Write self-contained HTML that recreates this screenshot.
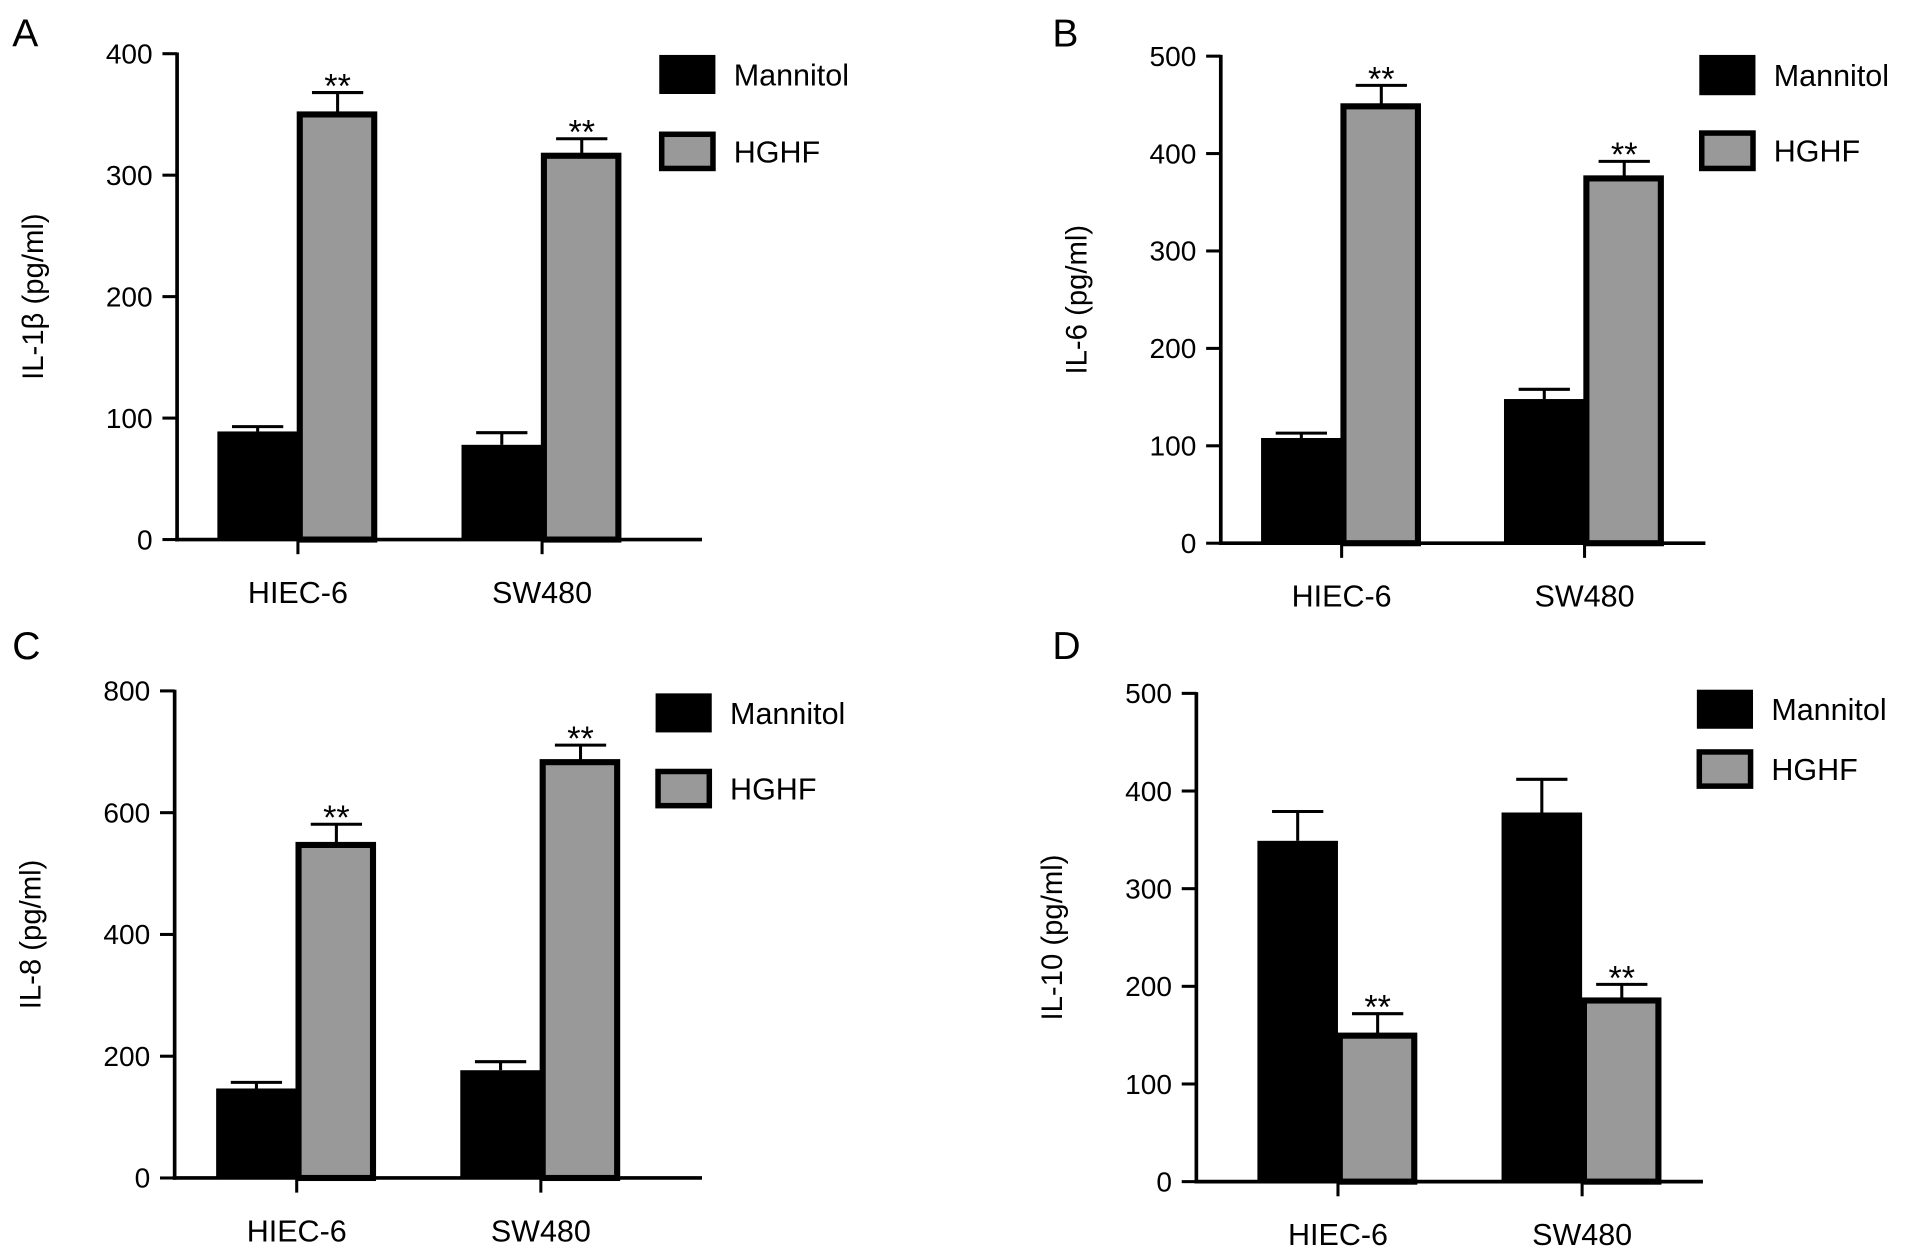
<!DOCTYPE html>
<html><head><meta charset="utf-8"><style>
html,body{margin:0;padding:0;background:#fff;}
svg{display:block;font-family:"Liberation Sans",Arial,sans-serif;}
</style></head><body>
<svg id="fig" width="1913" height="1250" viewBox="0 0 1567 1024" xmlns="http://www.w3.org/2000/svg"></svg>
<script>
const categories = ["HIEC-6", "SW480"];
const seriesNames = ["Mannitol", "HGHF"];
const aMannitol = [89, 78], aMannitolErr = [93, 88], aHGHF = [352, 318], aHGHFErr = [368, 330];
const bMannitol = [108, 148], bMannitolErr = [113, 158], bHGHF = [451, 377], bHGHFErr = [470, 392];
const cMannitol = [147, 177], cMannitolErr = [157, 191], cHGHF = [551, 687], cHGHFErr = [581, 711];
const dMannitol = [349, 378], dMannitolErr = [379, 412], dHGHF = [152, 188], dHGHFErr = [172, 202];
const aTicks = [0, 100, 200, 300, 400];
const bTicks = [0, 100, 200, 300, 400, 500];
const cTicks = [0, 200, 400, 600, 800];
const dTicks = [0, 100, 200, 300, 400, 500];

const NS = "http://www.w3.org/2000/svg";
const svg = document.getElementById("fig");
function mk(tag, attrs, parent, text) {
  const e = document.createElementNS(NS, tag);
  for (const k in attrs) e.setAttribute(k, attrs[k]);
  if (text !== undefined) e.textContent = text;
  (parent || svg).appendChild(e);
  return e;
}

const panels = [
  {id:"a", letter:"A", lx:10, ly:38, ax:145, y0:442, yTop:44, xEnd:575, ticks:aTicks, m:aMannitol, me:aMannitolErr, h:aHGHF, he:aHGHFErr, ylabel:"IL-1β (pg/ml)", legX:540, legY:[45,108], legH:32, groups:[178,378], catY:472},
  {id:"b", letter:"B", lx:862, ly:38, ax:1000, y0:445, yTop:46, xEnd:1397, ticks:bTicks, m:bMannitol, me:bMannitolErr, h:bHGHF, he:bHGHFErr, ylabel:"IL-6 (pg/ml)", legX:1392, legY:[45,107], legH:33, groups:[1033,1232], catY:475},
  {id:"c", letter:"C", lx:10, ly:540, ax:143, y0:965, yTop:566, xEnd:575, ticks:cTicks, m:cMannitol, me:cMannitolErr, h:cHGHF, he:cHGHFErr, ylabel:"IL-8 (pg/ml)", legX:537, legY:[568,630], legH:32, groups:[177,377], catY:995},
  {id:"d", letter:"D", lx:862, ly:540, ax:980, y0:968, yTop:568, xEnd:1395, ticks:dTicks, m:dMannitol, me:dMannitolErr, h:dHGHF, he:dHGHFErr, ylabel:"IL-10 (pg/ml)", legX:1390, legY:[565,614], legH:32, groups:[1030,1230], catY:998}
];

panels.forEach(p => {
  const g = mk("g", {});
  
  
  const maxT = p.ticks[p.ticks.length - 1];
  const y = v => p.y0 - (v / maxT) * (p.y0 - p.yTop);
  const lt = mk("text", {x:p.lx, y:p.ly, "font-size":32}, g, p.letter);
  
  
  const cy = (p.y0 + p.yTop) / 2;
  const yl = mk("text", {x:0, y:0, "font-size":24, "text-anchor":"middle", transform:`translate(${p.ax-110},${cy}) rotate(-90)`}, g, p.ylabel);
  
  
  p.ticks.forEach(t => {
    const ty = y(t);
    mk("line", {x1:p.ax-12, x2:p.ax, y1:ty, y2:ty, stroke:"#000", "stroke-width":2.5}, g);
    const tl = mk("text", {x:p.ax-20, y:ty+8, "font-size":23, "text-anchor":"end"}, g, String(t));
    
    
  });
  const bw = 66;
  categories.forEach((c, i) => {
    const gx = p.groups[i];
    const mTop = y(p.m[i]);
    mk("line", {x1:gx+bw/2, x2:gx+bw/2, y1:y(p.me[i]), y2:mTop, stroke:"#000", "stroke-width":2.5}, g);
    mk("line", {x1:gx+bw/2-21, x2:gx+bw/2+21, y1:y(p.me[i]), y2:y(p.me[i]), stroke:"#000", "stroke-width":2.5}, g);
    const mb = mk("rect", {x:gx, y:mTop, width:bw, height:p.y0-mTop, fill:"#000"}, g);
    
    
    const hx = gx + bw + 1.5;
    const hTop = y(p.h[i]);
    mk("line", {x1:hx+bw/2-2, x2:hx+bw/2-2, y1:y(p.he[i]), y2:hTop, stroke:"#000", "stroke-width":2.5}, g);
    mk("line", {x1:hx+bw/2-23, x2:hx+bw/2+19, y1:y(p.he[i]), y2:y(p.he[i]), stroke:"#000", "stroke-width":2.5}, g);
    const hb = mk("rect", {x:hx, y:hTop+2, width:bw-5, height:p.y0-hTop-2, fill:"#999", stroke:"#000", "stroke-width":5}, g);
    
    
    const st = mk("text", {x:hx+bw/2-2, y:y(p.he[i])+4, "font-size":28, "text-anchor":"middle"}, g, "**");
    
    
    mk("line", {x1:gx+bw, x2:gx+bw, y1:p.y0, y2:p.y0+12, stroke:"#000", "stroke-width":2.5}, g);
    const cl = mk("text", {x:gx+bw, y:p.catY+22, "font-size":25, "text-anchor":"middle"}, g, c);
    
    
  });
  const ya = mk("line", {x1:p.ax, x2:p.ax, y1:p.yTop-1, y2:p.y0+1.5, stroke:"#000", "stroke-width":3}, g);
  
  
  const xa = mk("line", {x1:p.ax-1.5, x2:p.xEnd, y1:p.y0, y2:p.y0, stroke:"#000", "stroke-width":3}, g);
  
  
  seriesNames.forEach((s, k) => {
    const ly = p.legY[k];
    const r = k === 0
      ? mk("rect", {x:p.legX, y:ly, width:46, height:p.legH, fill:"#000"}, g)
      : mk("rect", {x:p.legX+2, y:ly+2, width:42, height:p.legH-4, fill:"#999", stroke:"#000", "stroke-width":4.5}, g);
    
    
    const t = mk("text", {x:p.legX+61, y:ly+p.legH/2+9, "font-size":25}, g, s);
    
    
  });
});
</script>
</body></html>
